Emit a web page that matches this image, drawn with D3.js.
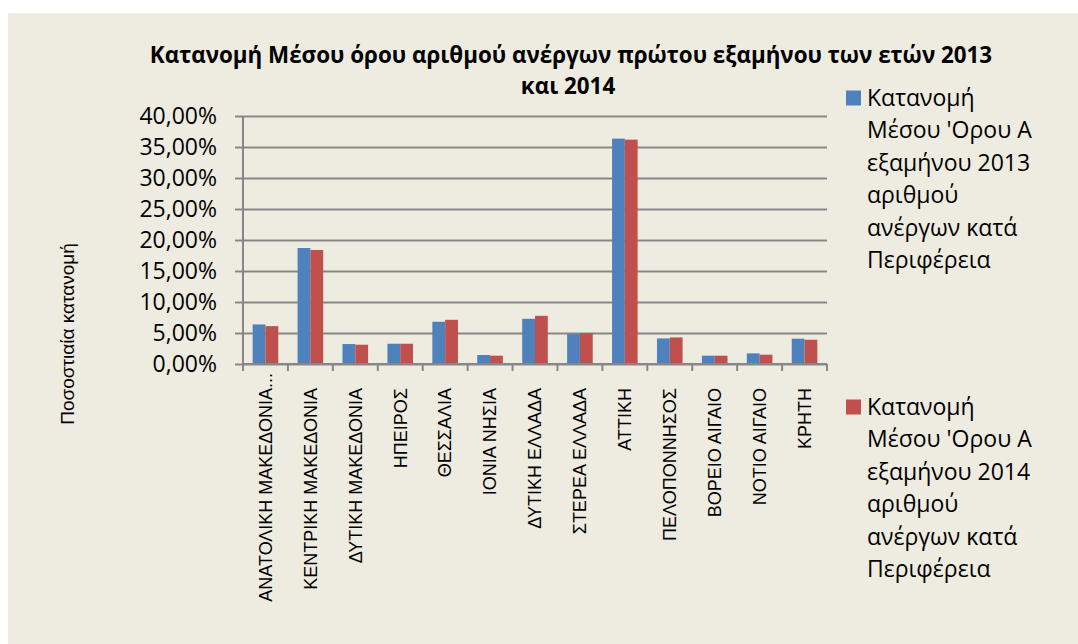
<!DOCTYPE html>
<html>
<head>
<meta charset="utf-8">
<script src="https://cdn.jsdelivr.net/npm/d3@7"></script>
<style>
  html, body { margin: 0; padding: 0; background: #fff; }
  svg { display: block; }
</style>
</head>
<body>
<script>
// Regions (x axis), as in the source sheet
let categories = [
  "ΑΝΑΤΟΛΙΚΗ ΜΑΚΕΔΟΝΙΑ...",
  "ΚΕΝΤΡΙΚΗ ΜΑΚΕΔΟΝΙΑ",
  "ΔΥΤΙΚΗ ΜΑΚΕΔΟΝΙΑ",
  "ΗΠΕΙΡΟΣ",
  "ΘΕΣΣΑΛΙΑ",
  "ΙΟΝΙΑ ΝΗΣΙΑ",
  "ΔΥΤΙΚΗ ΕΛΛΑΔΑ",
  "ΣΤΕΡΕΑ ΕΛΛΑΔΑ",
  "ΑΤΤΙΚΗ",
  "ΠΕΛΟΠΟΝΝΗΣΟΣ",
  "ΒΟΡΕΙΟ ΑΙΓΑΙΟ",
  "ΝΟΤΙΟ ΑΙΓΑΙΟ",
  "ΚΡΗΤΗ"
];

// share of unemployed, first half of each year
let values2013 = [0.0638, 0.1871, 0.0322, 0.0327, 0.0681, 0.0145, 0.0729, 0.0483, 0.3635, 0.0413, 0.0134, 0.0172, 0.0408];
let values2014 = [0.0611, 0.1839, 0.0311, 0.0327, 0.0713, 0.0134, 0.0777, 0.0499, 0.3619, 0.0429, 0.0134, 0.0150, 0.0391];

let yTicks = [0, 0.05, 0.10, 0.15, 0.20, 0.25, 0.30, 0.35, 0.40];

let seriesNames = ["2013", "2014"];
let legendLines = [
  ["Κατανομή", "Μέσου 'Ορου Α", "εξαμήνου 2013", "αριθμού", "ανέργων κατά", "Περιφέρεια"],
  ["Κατανομή", "Μέσου 'Ορου Α", "εξαμήνου 2014", "αριθμού", "ανέργων κατά", "Περιφέρεια"]
];

let titleLines = [
  "Κατανομή Μέσου όρου αριθμού ανέργων πρώτου εξαμήνου των ετών 2013",
  "και 2014"
];
let yTitle = "Ποσοστιαία κατανομή";

let colors = { "2013": "#4F81BD", "2014": "#C0504D" };

let width = 1078, height = 644;
let plot = { left: 243, right: 827, top: 116, bottom: 364 };

let svg = d3.select("body").append("svg")
  .attr("width", width)
  .attr("height", height);

// chart background
svg.append("rect")
  .attr("x", 8).attr("y", 13)
  .attr("width", width - 8).attr("height", height - 13)
  .attr("fill", "#EEECE1");

let x0 = d3.scaleBand()
  .domain(categories)
  .range([plot.left, plot.right])
  .paddingInner(0.43)
  .paddingOuter(0.215);

let x1 = d3.scaleBand()
  .domain(seriesNames)
  .range([0, x0.bandwidth()]);

let y = d3.scaleLinear()
  .domain([0, 0.40])
  .range([plot.bottom, plot.top]);

let locale = d3.formatLocale({ decimal: ",", thousands: ".", grouping: [3], currency: ["", "€"] });
let pct = locale.format(".2%");

// gridlines + y axis
let yAxis = svg.append("g")
  .attr("transform", "translate(" + plot.left + ",0)")
  .call(d3.axisLeft(y)
    .tickValues(yTicks)
    .tickSize(-(plot.right - plot.left))
    .tickSizeOuter(0)
    .tickPadding(18)
    .tickFormat(pct));

yAxis.select(".domain").remove();
yAxis.selectAll(".tick line")
  .attr("x1", -8)
  .attr("stroke", "#878787")
  .attr("stroke-width", 2);
yAxis.selectAll(".tick text")
  .attr("font-family", "'Open Sans', sans-serif")
  .attr("font-size", 23)
  .attr("fill", "#000")
  .attr("dx", -8);

svg.append("line")
  .attr("x1", plot.left).attr("x2", plot.left)
  .attr("y1", plot.top).attr("y2", plot.bottom)
  .attr("stroke", "#878787")
  .attr("stroke-width", 2);

// bars
let series = [values2013, values2014];
let groups = svg.append("g").selectAll("g")
  .data(categories)
  .enter().append("g")
  .attr("transform", function(d) { return "translate(" + x0(d) + ",0)"; });

groups.selectAll("rect")
  .data(function(d, i) {
    return seriesNames.map(function(s, j) { return { key: s, value: series[j][i] }; });
  })
  .enter().append("rect")
  .attr("x", function(d) { return x1(d.key); })
  .attr("y", function(d) { return y(d.value); })
  .attr("width", x1.bandwidth())
  .attr("height", function(d) { return y(0) - y(d.value); })
  .attr("fill", function(d) { return colors[d.key]; });

// x axis with ticks between categories
let step = x0.step();
let xAxis = svg.append("g");
xAxis.append("line")
  .attr("x1", plot.left).attr("x2", plot.right)
  .attr("y1", plot.bottom).attr("y2", plot.bottom)
  .attr("stroke", "#878787")
  .attr("stroke-width", 2);
xAxis.selectAll(".xtick")
  .data(d3.range(categories.length + 1))
  .enter().append("line")
  .attr("class", "xtick")
  .attr("x1", function(i) { return plot.left + i * step; })
  .attr("x2", function(i) { return plot.left + i * step; })
  .attr("y1", plot.bottom).attr("y2", plot.bottom + 7)
  .attr("stroke", "#878787")
  .attr("stroke-width", 2);

let labelTop = 388;
xAxis.selectAll(".xlabel")
  .data(categories)
  .enter().append("text")
  .attr("class", "xlabel")
  .attr("transform", function(d) {
    return "translate(" + (x0(d) + x0.bandwidth() / 2) + "," + labelTop + ") rotate(-90)";
  })
  .attr("dy", "0.35em")
  .attr("text-anchor", "end")
  .attr("font-family", "'Liberation Sans', Arial, sans-serif")
  .attr("font-size", 18)
  .attr("fill", "#000")
  .text(function(d) { return d.replace("...", ""); });

// ellipsis of truncated labels hangs above the anchor
xAxis.selectAll(".xdots")
  .data(categories.filter(function(d) { return d.endsWith("..."); }))
  .enter().append("text")
  .attr("transform", function(d) {
    return "translate(" + (x0(d) + x0.bandwidth() / 2) + "," + labelTop + ") rotate(-90)";
  })
  .attr("dy", "0.35em")
  .attr("text-anchor", "start")
  .attr("font-family", "'Liberation Sans', Arial, sans-serif")
  .attr("font-size", 18)
  .text("...");

// title
let title = svg.append("g")
  .attr("font-family", "'Open Sans', sans-serif")
  .attr("font-weight", "bold")
  .attr("text-anchor", "middle")
  .attr("fill", "#000");

let t1 = title.append("text")
  .attr("x", 571).attr("y", 63)
  .attr("font-size", 22)
  .text(titleLines[0]);
// fit the first line to the width it takes in the original
let fs = 22 * 843 / t1.node().getComputedTextLength();
t1.attr("font-size", fs);
title.append("text")
  .attr("x", 568).attr("y", 94)
  .attr("font-size", fs)
  .text(titleLines[1]);

// y axis title
svg.append("text")
  .attr("transform", "translate(67,334) rotate(-90)")
  .attr("dy", "0.35em")
  .attr("text-anchor", "middle")
  .attr("font-family", "'Liberation Sans', Arial, sans-serif")
  .attr("font-size", 19)
  .attr("fill", "#000")
  .text(yTitle);

// legend
let legendTop = [98, 407];
let lineH = 32.4;
let legend = svg.append("g")
  .attr("font-family", "'Open Sans', sans-serif")
  .attr("fill", "#000");

seriesNames.forEach(function(s, i) {
  legend.append("rect")
    .attr("x", 846).attr("y", legendTop[i] - 7.5)
    .attr("width", 15).attr("height", 15)
    .attr("fill", colors[s]);
  legend.append("text")
    .attr("x", 867)
    .attr("font-size", 23)
    .selectAll("tspan")
    .data(legendLines[i])
    .enter().append("tspan")
    .attr("x", 867)
    .attr("y", function(d, k) { return legendTop[i] + k * lineH; })
    .attr("dy", "0.35em")
    .text(function(d) { return d; });
});
</script>
</body>
</html>
